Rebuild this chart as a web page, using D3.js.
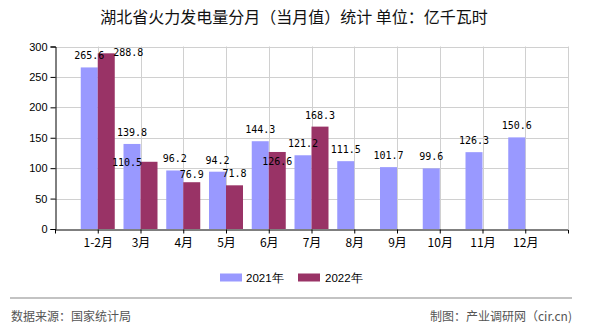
<!DOCTYPE html>
<html><head><meta charset="utf-8">
<script src="https://cdn.jsdelivr.net/npm/d3@7/dist/d3.min.js"></script>
<style>
html,body{margin:0;padding:0;background:#fff;}
svg{display:block;}
</style></head>
<body>
<svg id="chart" width="590" height="330"></svg>
<script>
const categories = ["1-2月","3月","4月","5月","6月","7月","8月","9月","10月","11月","12月"];
const values2021 = [265.6,139.8,96.2,94.2,144.3,121.2,111.5,101.7,99.6,126.3,150.6];
const values2022 = [288.8,110.5,76.9,71.8,126.6,168.3,null,null,null,null,null];
const seriesNames = ["2021年","2022年"];
const yTicks = [0,50,100,150,200,250,300];
const titleText = "湖北省火力发电量分月（当月值）统计 单位：亿千瓦时";
const sourceText = "数据来源：国家统计局";
const creditText = "制图：产业调研网（cir.cn)";

const colors = ["#9999FF","#993366"];
const svg = d3.select("#chart");
const L = 55, R = 568, T = 46.5, B = 229;
const x = d3.scalePoint().domain(categories).range([L, R]).padding(1);
const y = d3.scaleLinear().domain([0, 300]).range([B, T]);
const bw = 17;

// title
svg.append("text").attr("x", 294).attr("y", 23).attr("text-anchor","middle")
  .attr("font-family","'Noto Sans CJK SC', sans-serif").attr("font-size",16).attr("fill","#111")
  .text(titleText);

// grid
const grid = svg.append("g").attr("stroke","#d0d0d0").attr("stroke-width",1);
yTicks.filter(d=>d>0).forEach(t=>{
  grid.append("line").attr("x1",L).attr("x2",R).attr("y1",Math.round(y(t))+0.5).attr("y2",Math.round(y(t))+0.5);
});
categories.forEach(c=>{
  grid.append("line").attr("x1",Math.round(x(c))+0.5).attr("x2",Math.round(x(c))+0.5).attr("y1",T).attr("y2",B);
});
grid.append("line").attr("x1",R+0.5).attr("x2",R+0.5).attr("y1",T).attr("y2",B);

// bars
const series = [values2021, values2022];
series.forEach((vals, si)=>{
  svg.append("g").selectAll("rect").data(categories.map((c,i)=>({c, v: vals[i]})).filter(d=>d.v!=null))
    .join("rect")
    .attr("x", d => si===0 ? x(d.c) - bw : x(d.c))
    .attr("width", bw)
    .attr("y", d => y(d.v))
    .attr("height", d => B - y(d.v))
    .attr("fill", colors[si]);
});

// axes
const yAxis = d3.axisLeft(y).tickValues(yTicks).tickSize(5).tickPadding(3);
const gy = svg.append("g").attr("transform",`translate(${L+0.5},0)`).call(yAxis);
gy.select(".domain").attr("stroke","#000");
gy.selectAll(".tick line").attr("stroke","#000");
gy.selectAll("text").attr("font-family","'Liberation Sans', Arial, sans-serif").attr("font-size",11).attr("fill","#000");

const xAxis = d3.axisBottom(x).tickSize(4).tickSizeOuter(4).tickPadding(5);
const gx = svg.append("g").attr("transform",`translate(0,${B+0.5})`).call(xAxis);
gx.select(".domain").attr("stroke","#000");
gx.selectAll(".tick line").attr("stroke","#000");
gx.selectAll("text").attr("font-family","'Noto Sans CJK SC', sans-serif").attr("font-size",12).attr("fill","#000");

// value labels
const nudges = { "1-0": [22, 10.5], "1-1": [-22, 12], "1-4": [0, 21], "1-2": [0, 4] };
series.forEach((vals, si)=>{
  categories.forEach((c,i)=>{
    const v = vals[i];
    if (v==null) return;
    const cx = si===0 ? x(c) - bw/2 : x(c) + bw/2;
    const n = nudges[si+"-"+i] || [0,0];
    svg.append("text").attr("x", cx + n[0]).attr("y", y(v) - 8 + n[1])
      .attr("text-anchor","middle").attr("font-family","'DejaVu Sans Mono', monospace")
      .attr("font-size",10).attr("fill","#000").text(v.toFixed(1));
  });
});

// legend
const lg = svg.append("g");
[[220,246,0],[298,325,1]].forEach(([sx,tx,i])=>{
  lg.append("rect").attr("x",sx).attr("y",273.5).attr("width",22).attr("height",8).attr("fill",colors[i]);
  lg.append("text").attr("x",tx).attr("y",281.5).attr("font-family","'Liberation Sans', Arial, sans-serif")
    .attr("font-size",11.5).attr("fill","#000").text(seriesNames[i]);
});

// footer
svg.append("line").attr("x1",10).attr("x2",572).attr("y1",298).attr("y2",298).attr("stroke","#888").attr("stroke-width",1.2);
svg.append("text").attr("x",11).attr("y",321).attr("font-family","'Noto Sans CJK SC', sans-serif")
  .attr("font-size",12).attr("fill","#555").text(sourceText);
svg.append("text").attr("x",572).attr("y",321).attr("text-anchor","end").attr("font-family","'Noto Sans CJK SC', sans-serif")
  .attr("font-size",12).attr("fill","#555").text(creditText);
</script>
</body></html>
